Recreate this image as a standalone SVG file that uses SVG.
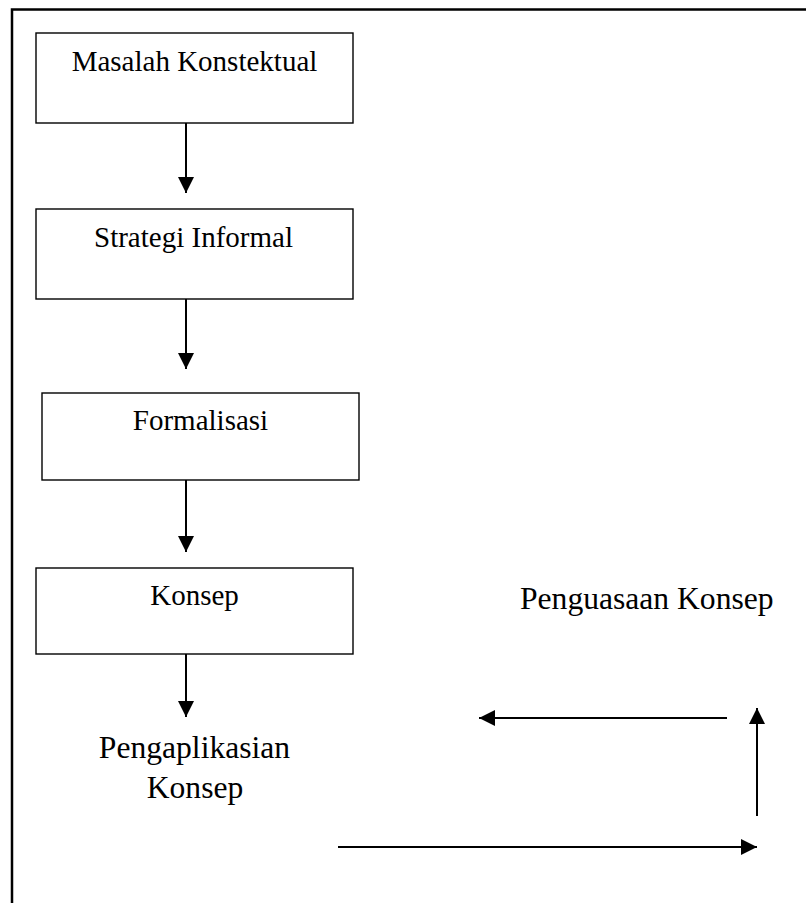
<svg xmlns="http://www.w3.org/2000/svg" width="806" height="903" viewBox="0 0 806 903">
<defs>
<style>
.box{fill:#fff;stroke:#000;stroke-width:1.4}
.t{font-family:"Liberation Serif","Times New Roman",serif;fill:#000}
.bt{font-size:29px;text-anchor:middle}
.lt{font-size:31.6px}
.c{stroke:#000;stroke-width:2;fill:none;marker-end:url(#ah)}
.frame{stroke:#000;stroke-width:2.5;fill:none}
</style>
<marker id="ah" markerUnits="userSpaceOnUse" markerWidth="16" markerHeight="16" refX="16" refY="8" orient="auto" viewBox="0 0 16 16">
<path d="M0,0 L16,8 L0,16 z" fill="#000"/>
</marker>
</defs>
<rect width="806" height="903" fill="#fff"/>
<path class="frame" d="M12,903 V9.5 H806"/>
<g id="node-masalah">
<rect class="box" x="36" y="33" width="317" height="90"/>
<text class="t bt" x="194.5" y="71">Masalah Konstektual</text>
</g>
<g id="node-strategi">
<rect class="box" x="36" y="209" width="317" height="90"/>
<text class="t bt" x="193.5" y="247">Strategi Informal</text>
</g>
<g id="node-formalisasi">
<rect class="box" x="42" y="393" width="317" height="87"/>
<text class="t bt" x="200.5" y="430">Formalisasi</text>
</g>
<g id="node-konsep">
<rect class="box" x="36" y="568" width="317" height="86"/>
<text class="t bt" x="194.5" y="605">Konsep</text>
</g>
<g id="node-pengaplikasian">
<text class="t lt" text-anchor="middle" x="194.5" y="758">Pengaplikasian</text>
<text class="t lt" text-anchor="middle" x="195" y="798">Konsep</text>
</g>
<g id="node-penguasaan">
<text class="t lt" x="520" y="609">Penguasaan Konsep</text>
</g>
<g id="connectors">
<line class="c" x1="186" y1="123" x2="186" y2="193"/>
<line class="c" x1="186" y1="299" x2="186" y2="369"/>
<line class="c" x1="186" y1="480" x2="186" y2="552"/>
<line class="c" x1="186" y1="654" x2="186" y2="717"/>
<line class="c" x1="727" y1="718" x2="479" y2="718"/>
<line class="c" x1="757" y1="816" x2="757" y2="708"/>
<line class="c" x1="338" y1="847" x2="757" y2="847"/>
</g>
</svg>
